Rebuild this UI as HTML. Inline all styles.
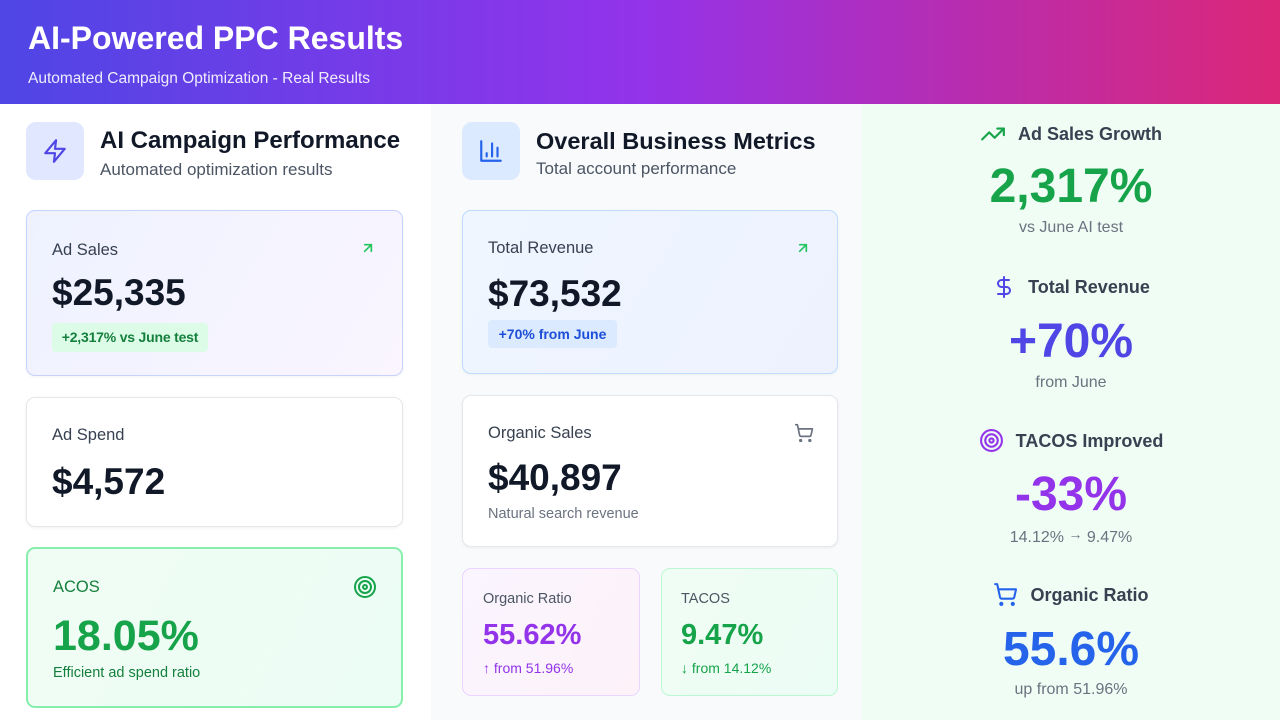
<!DOCTYPE html>
<html>
<head>
<meta charset="utf-8">
<style>
*{margin:0;padding:0;box-sizing:border-box;}
html,body{width:1280px;height:720px;overflow:hidden;background:#fff;font-family:"Liberation Sans","DejaVu Sans",sans-serif;}
.abs{position:absolute;}
.header{left:0;top:0;width:1280px;height:104px;background:linear-gradient(90deg,#4f46e5 0%,#9333ea 50%,#db2777 100%);}
.col1{left:0;top:104px;width:431px;height:616px;background:#ffffff;}
.col2{left:431px;top:104px;width:431px;height:616px;background:#f8fafc;}
.col3{left:862px;top:104px;width:418px;height:616px;background:#effdf4;}
.t{position:absolute;white-space:nowrap;}
.card{position:absolute;border-radius:9px;}
.iconbox{position:absolute;width:58px;height:58px;border-radius:10px;display:flex;align-items:center;justify-content:center;}
.rrow{position:absolute;left:862px;width:418px;display:flex;justify-content:center;align-items:center;gap:12px;white-space:nowrap;}
.rlabel{font-size:18px;font-weight:bold;color:#374151;line-height:24px;}
.rval{position:absolute;left:862px;width:418px;text-align:center;font-size:48px;font-weight:bold;line-height:56px;}
.rsub{position:absolute;left:862px;width:418px;text-align:center;font-size:16px;color:#6b7280;line-height:20px;}
</style>
</head>
<body>
<div class="abs header"></div>
<div class="t" style="left:28px;top:18px;font-size:32px;font-weight:bold;color:#fff;line-height:40px;">AI-Powered PPC Results</div>
<div class="t" style="left:28px;top:69px;font-size:15.5px;color:rgba(255,255,255,0.9);line-height:20px;">Automated Campaign Optimization - Real Results</div>

<div class="abs col1"></div>
<div class="abs col2"></div>
<div class="abs col3"></div>

<!-- LEFT COLUMN -->
<div class="iconbox" style="left:26px;top:122px;background:#e0e7ff;">
<svg width="26" height="26" viewBox="0 0 24 24" fill="none" stroke="#4f46e5" stroke-width="2" stroke-linecap="round" stroke-linejoin="round"><path d="M13 2 3 14h9l-1 8 10-12h-9l1-8z"/></svg>
</div>
<div class="t" style="left:100px;top:127px;font-size:24px;font-weight:bold;color:#111827;line-height:28px;">AI Campaign Performance</div>
<div class="t" style="left:100px;top:159px;font-size:17px;color:#4b5563;line-height:22px;">Automated optimization results</div>

<div class="card" style="left:26px;top:210px;width:377px;height:166px;border:1px solid #c7d2fe;background:linear-gradient(120deg,#eef2ff,#faf5ff);box-shadow:0 1px 3px rgba(0,0,0,0.05);"></div>
<div class="t" style="left:52px;top:240px;font-size:16.5px;color:#374151;line-height:20px;">Ad Sales</div>
<svg class="abs" style="left:360px;top:240px;" width="16" height="16" viewBox="0 0 24 24" fill="none" stroke="#22c55e" stroke-width="2.5" stroke-linecap="round" stroke-linejoin="round"><path d="M7 7h10v10"/><path d="M7 17 17 7"/></svg>
<div class="t" style="left:52px;top:272px;font-size:37px;font-weight:bold;color:#111827;line-height:42px;">$25,335</div>
<div class="abs" style="left:52px;top:323px;width:156px;height:29px;background:#dcfce7;border-radius:4px;"></div>
<div class="t" style="left:52px;top:323px;width:156px;text-align:center;font-size:14px;font-weight:bold;color:#15803d;line-height:29px;letter-spacing:-0.2px;">+2,317% vs June test</div>

<div class="card" style="left:26px;top:397px;width:377px;height:130px;border:1px solid #e5e7eb;background:#fff;box-shadow:0 1px 3px rgba(0,0,0,0.06);"></div>
<div class="t" style="left:52px;top:425px;font-size:16.5px;color:#374151;line-height:20px;">Ad Spend</div>
<div class="t" style="left:52px;top:461px;font-size:37px;font-weight:bold;color:#111827;line-height:42px;">$4,572</div>

<div class="card" style="left:26px;top:547px;width:377px;height:161px;border:2px solid #86efac;background:linear-gradient(120deg,#f0fdf4,#ecfdf5);"></div>
<div class="t" style="left:53px;top:577px;font-size:16.5px;color:#15803d;line-height:20px;">ACOS</div>
<svg class="abs" style="left:353px;top:575px;" width="24" height="24" viewBox="0 0 24 24" fill="none" stroke="#16a34a" stroke-width="2" stroke-linecap="round" stroke-linejoin="round"><circle cx="12" cy="12" r="10"/><circle cx="12" cy="12" r="6"/><circle cx="12" cy="12" r="2"/></svg>
<div class="t" style="left:53px;top:611px;font-size:43px;font-weight:bold;color:#16a34a;line-height:50px;">18.05%</div>
<div class="t" style="left:53px;top:663px;font-size:14.5px;color:#15803d;line-height:20px;">Efficient ad spend ratio</div>

<!-- MIDDLE COLUMN -->
<div class="iconbox" style="left:462px;top:122px;background:#dbeafe;">
<svg width="26" height="26" viewBox="0 0 24 24" fill="none" stroke="#2563eb" stroke-width="2" stroke-linecap="round" stroke-linejoin="round"><path d="M3 3v18h18"/><path d="M18 17V9"/><path d="M13 17V5"/><path d="M8 17v-3"/></svg>
</div>
<div class="t" style="left:536px;top:127px;font-size:23.5px;font-weight:bold;color:#111827;line-height:28px;">Overall Business Metrics</div>
<div class="t" style="left:536px;top:158px;font-size:17px;color:#4b5563;line-height:22px;">Total account performance</div>

<div class="card" style="left:462px;top:210px;width:376px;height:164px;border:1px solid #bfdbfe;background:linear-gradient(120deg,#eff6ff,#eef2ff);box-shadow:0 1px 3px rgba(0,0,0,0.05);"></div>
<div class="t" style="left:488px;top:238px;font-size:16.5px;color:#374151;line-height:20px;">Total Revenue</div>
<svg class="abs" style="left:795px;top:240px;" width="16" height="16" viewBox="0 0 24 24" fill="none" stroke="#22c55e" stroke-width="2.5" stroke-linecap="round" stroke-linejoin="round"><path d="M7 7h10v10"/><path d="M7 17 17 7"/></svg>
<div class="t" style="left:488px;top:273px;font-size:37px;font-weight:bold;color:#111827;line-height:42px;">$73,532</div>
<div class="abs" style="left:488px;top:320px;width:129px;height:28px;background:#dbeafe;border-radius:4px;"></div>
<div class="t" style="left:488px;top:320px;width:129px;text-align:center;font-size:14px;font-weight:bold;color:#1d4ed8;line-height:28px;">+70% from June</div>

<div class="card" style="left:462px;top:395px;width:376px;height:152px;border:1px solid #e5e7eb;background:#fff;box-shadow:0 1px 3px rgba(0,0,0,0.06);"></div>
<div class="t" style="left:488px;top:423px;font-size:16.5px;color:#374151;line-height:20px;">Organic Sales</div>
<svg class="abs" style="left:794px;top:423px;" width="20" height="20" viewBox="0 0 24 24" fill="none" stroke="#6b7280" stroke-width="2" stroke-linecap="round" stroke-linejoin="round"><circle cx="8" cy="21" r="1"/><circle cx="19" cy="21" r="1"/><path d="M2.05 2.05h2l2.66 12.42a2 2 0 0 0 2 1.58h9.78a2 2 0 0 0 1.95-1.57l1.65-7.43H5.12"/></svg>
<div class="t" style="left:488px;top:457px;font-size:37px;font-weight:bold;color:#111827;line-height:42px;">$40,897</div>
<div class="t" style="left:488px;top:504px;font-size:14.5px;color:#6b7280;line-height:20px;">Natural search revenue</div>

<div class="card" style="left:462px;top:568px;width:178px;height:128px;border:1px solid #e9d5ff;background:linear-gradient(120deg,#faf5ff,#fdf2f8);"></div>
<div class="t" style="left:483px;top:589px;font-size:14.5px;color:#4b5563;line-height:20px;">Organic Ratio</div>
<div class="t" style="left:483px;top:618px;font-size:29px;font-weight:bold;color:#9333ea;line-height:34px;">55.62%</div>
<div class="t" style="left:483px;top:658px;font-size:14px;color:#9333ea;line-height:20px;">↑ from 51.96%</div>

<div class="card" style="left:661px;top:568px;width:177px;height:128px;border:1px solid #bbf7d0;background:linear-gradient(120deg,#f0fdf4,#ecfdf5);"></div>
<div class="t" style="left:681px;top:589px;font-size:14.5px;color:#4b5563;line-height:20px;">TACOS</div>
<div class="t" style="left:681px;top:618px;font-size:29px;font-weight:bold;color:#16a34a;line-height:34px;">9.47%</div>
<div class="t" style="left:681px;top:658px;font-size:14px;color:#16a34a;line-height:20px;">↓ from 14.12%</div>

<!-- RIGHT COLUMN -->
<div class="rrow" style="top:121px;">
<svg width="26" height="26" viewBox="0 0 24 24" fill="none" stroke="#16a34a" stroke-width="2" stroke-linecap="round" stroke-linejoin="round"><polyline points="22 7 13.5 15.5 8.5 10.5 2 17"/><polyline points="16 7 22 7 22 13"/></svg>
<span class="rlabel">Ad Sales Growth</span>
</div>
<div class="rval" style="top:159px;color:#16a34a;">2,317%</div>
<div class="rsub" style="top:218px;">vs June AI test</div>

<div class="rrow" style="top:275px;">
<svg width="24" height="24" viewBox="0 0 24 24" fill="none" stroke="#4f46e5" stroke-width="2" stroke-linecap="round" stroke-linejoin="round"><line x1="12" y1="2" x2="12" y2="22"/><path d="M17 5H9.5a3.5 3.5 0 0 0 0 7h5a3.5 3.5 0 0 1 0 7H6"/></svg>
<span class="rlabel">Total Revenue</span>
</div>
<div class="rval" style="top:314px;color:#4f46e5;">+70%</div>
<div class="rsub" style="top:373px;">from June</div>

<div class="rrow" style="top:428px;">
<svg width="25" height="25" viewBox="0 0 24 24" fill="none" stroke="#9333ea" stroke-width="2" stroke-linecap="round" stroke-linejoin="round"><circle cx="12" cy="12" r="10"/><circle cx="12" cy="12" r="6"/><circle cx="12" cy="12" r="2"/></svg>
<span class="rlabel">TACOS Improved</span>
</div>
<div class="rval" style="top:467px;color:#9333ea;">-33%</div>
<div class="rsub" style="top:527px;">14.12% <span style="position:relative;top:-3px;font-size:14px;">→</span> 9.47%</div>

<div class="rrow" style="top:582px;">
<svg width="25" height="25" viewBox="0 0 24 24" fill="none" stroke="#2563eb" stroke-width="2" stroke-linecap="round" stroke-linejoin="round"><circle cx="8" cy="21" r="1"/><circle cx="19" cy="21" r="1"/><path d="M2.05 2.05h2l2.66 12.42a2 2 0 0 0 2 1.58h9.78a2 2 0 0 0 1.95-1.57l1.65-7.43H5.12"/></svg>
<span class="rlabel">Organic Ratio</span>
</div>
<div class="rval" style="top:622px;color:#2563eb;">55.6%</div>
<div class="rsub" style="top:680px;">up from 51.96%</div>

</body>
</html>
